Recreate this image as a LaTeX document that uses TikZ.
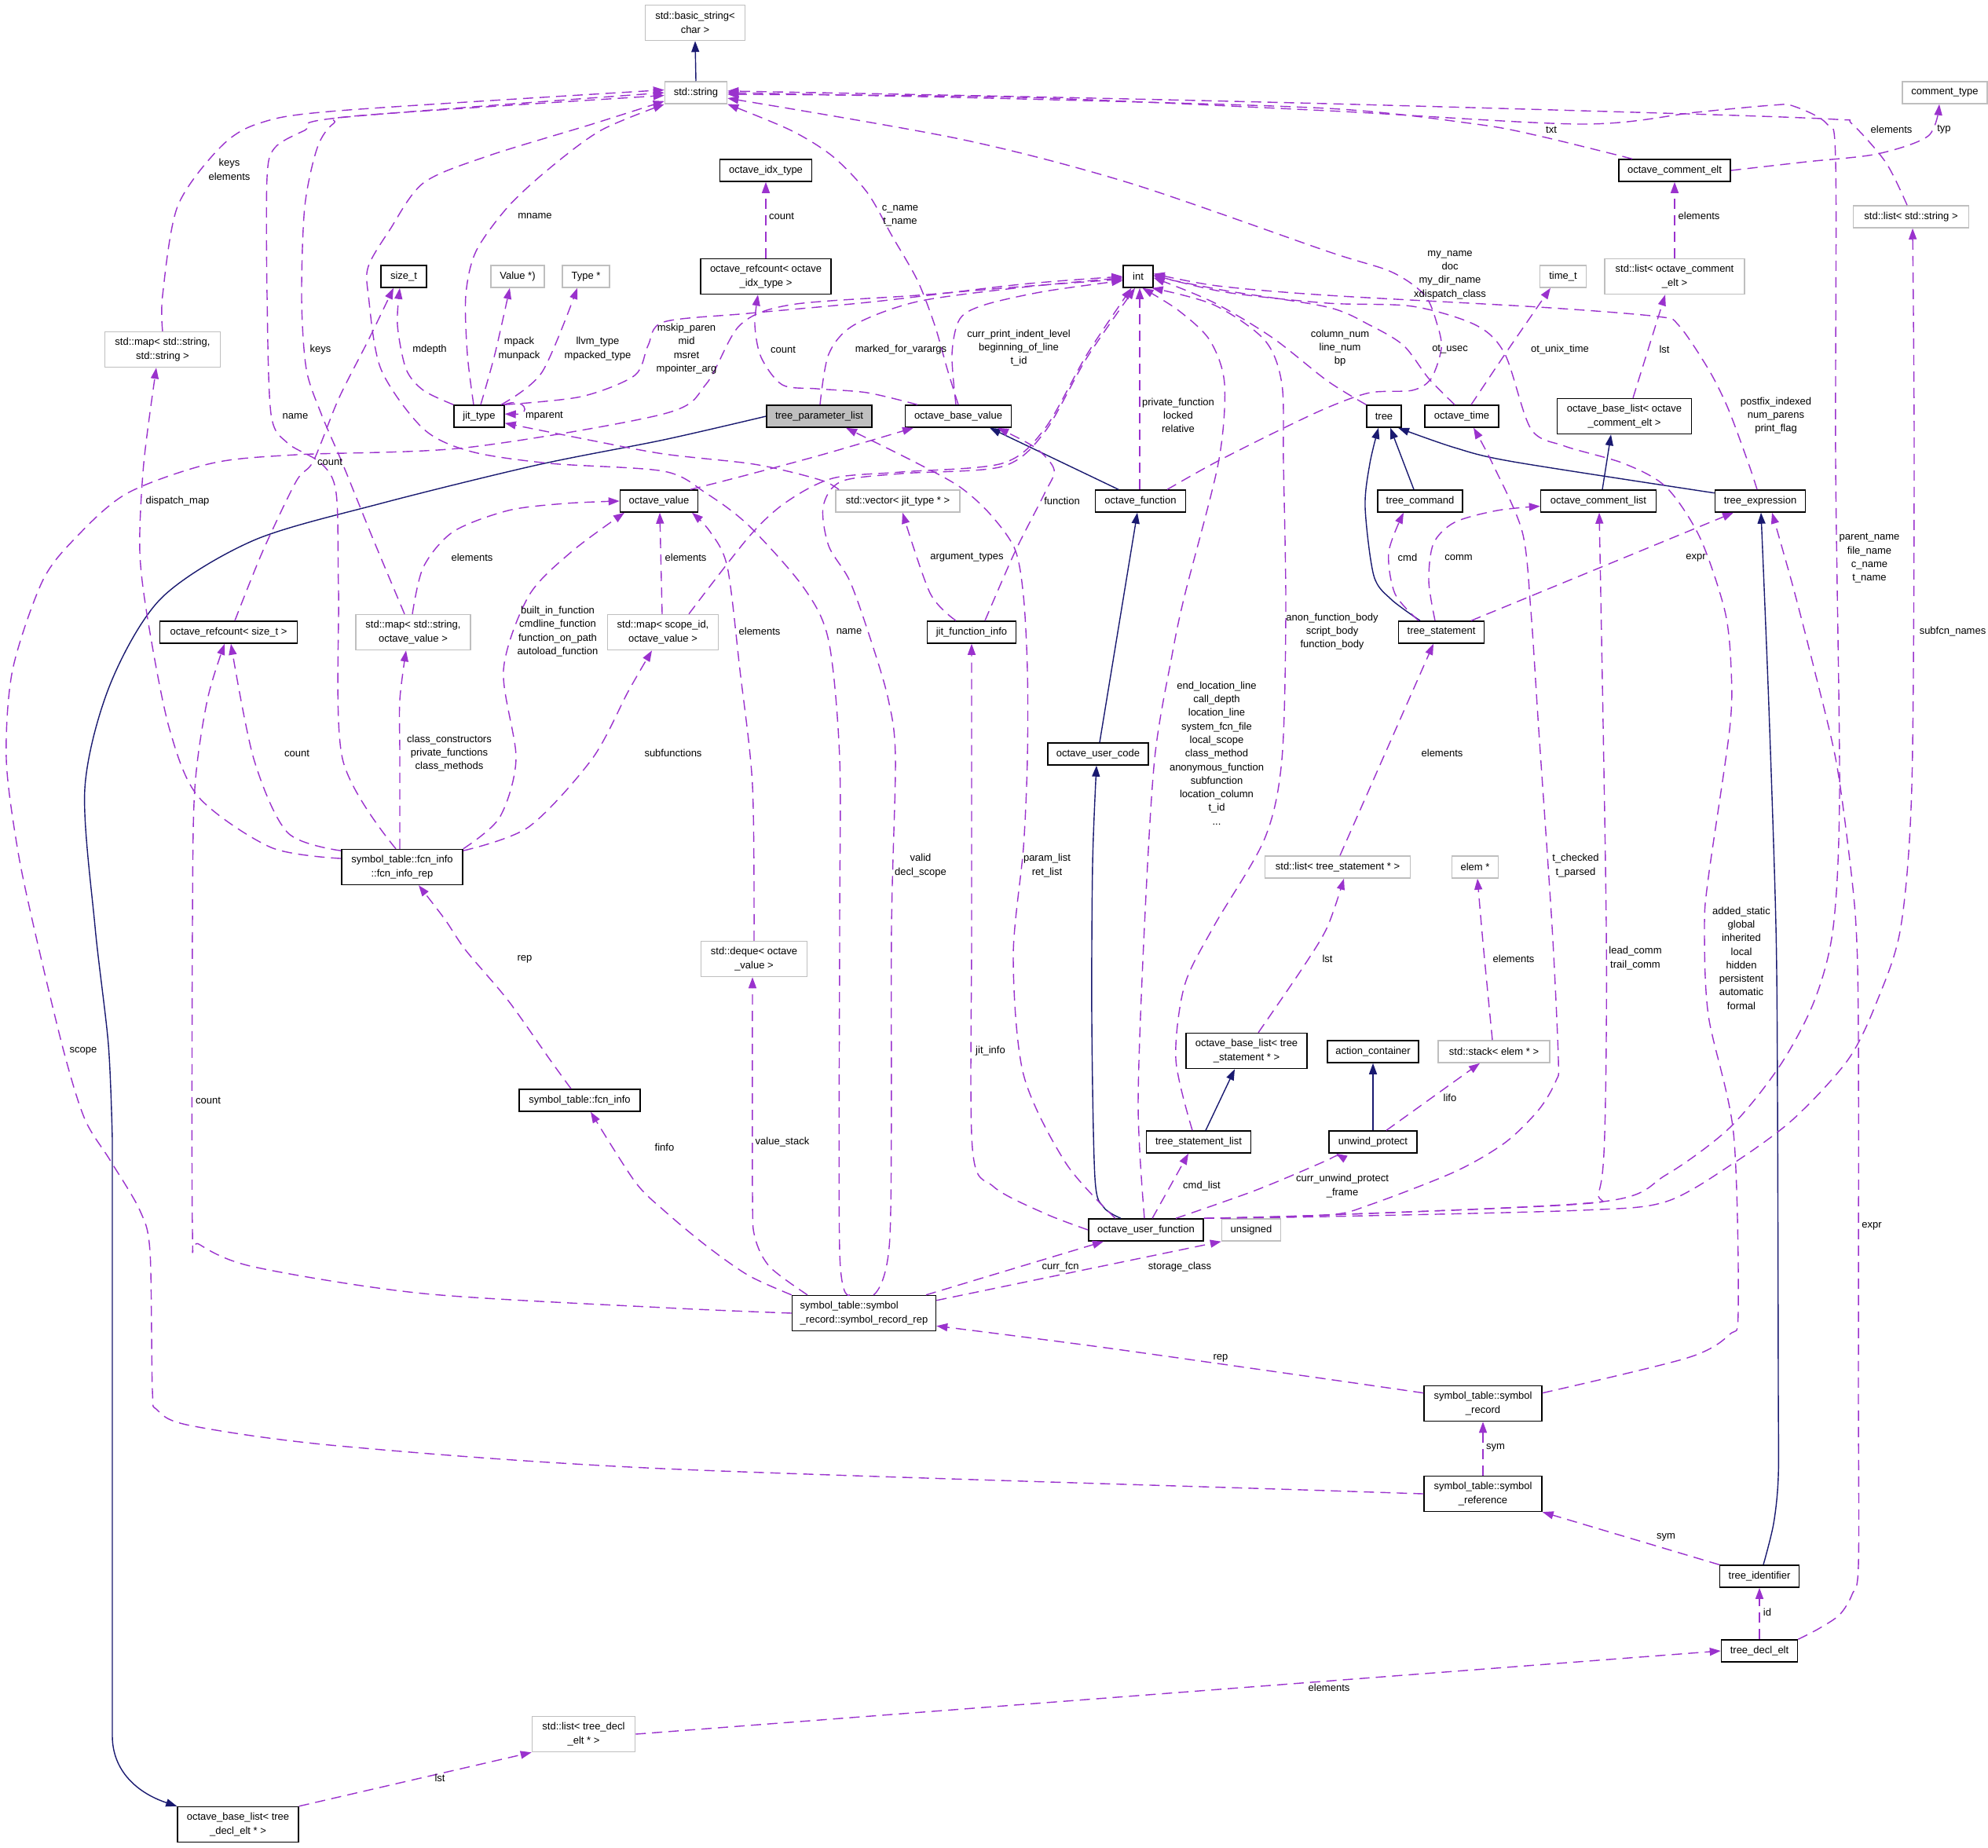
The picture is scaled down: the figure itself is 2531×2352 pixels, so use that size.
\documentclass[tikz,border=0pt]{standalone}
\usepackage{fontspec}
\setmainfont{Liberation Sans}
\usetikzlibrary{arrows.meta}
\definecolor{usec}{HTML}{9A32CD}
\definecolor{inhc}{HTML}{191970}
\definecolor{extc}{HTML}{BFBFBF}
\newcommand\dgfont{\fontsize{13}{17.3}\selectfont}
\tikzset{
 cls/.style={draw=black, line width=1.5pt, fill=white, minimum height=28pt, inner sep=0pt, align=center, font=\dgfont},
 ext/.style={cls, draw=extc},
 two/.style={minimum height=45pt},
 uedge/.style={draw=usec, line width=1.4pt, dash pattern=on 13pt off 8pt, -{Triangle[length=14pt,width=10pt]}},
 iedge/.style={draw=inhc, line width=1.4pt, -{Triangle[length=14pt,width=10pt]}},
 lab/.style={font=\dgfont, align=center, inner sep=0pt},
}
\begin{document}
\begin{tikzpicture}[x=1pt,y=-1pt]
\fill[white] (0,0) rectangle (2531,2352);
\useasboundingbox (0,0) rectangle (2531,2352);
% ---------------- nodes
\node[ext,two,minimum width=127pt] (bstr) at (885,29) {std::basic\_string<\\char >};
\node[ext,minimum width=79pt] (str) at (886,118) {std::string};
\node[cls,minimum width=58pt] (sizet) at (514,352) {size\_t};
\node[ext,minimum width=68pt] (valp) at (659,352) {Value *)};
\node[ext,minimum width=60pt] (typep) at (746,352) {Type *};
\node[ext,two,minimum width=147pt] (mapss) at (207,445) {std::map< std::string,\\std::string >};
\node[cls,minimum width=64pt] (jit) at (610,530) {jit\_type};
\node[cls,minimum width=117pt] (idx) at (975,217) {octave\_idx\_type};
\node[cls,two,minimum width=166pt] (rcidx) at (975,352) {octave\_refcount< octave\\\_idx\_type >};
\node[cls,minimum width=38pt] (intn) at (1449,352) {int};
\node[cls,fill=extc,minimum width=134pt] (tpl) at (1043,530) {tree\_parameter\_list};
\node[cls,minimum width=135pt] (obv) at (1220,530) {octave\_base\_value};
\node[ext,minimum width=108pt] (ctype) at (2476,118) {comment\_type};
\node[cls,minimum width=142pt] (oce) at (2132,217) {octave\_comment\_elt};
\node[ext,minimum width=147pt] (lstr) at (2433,276) {std::list< std::string >};
\node[ext,minimum width=59pt] (timet) at (1990,352) {time\_t};
\node[ext,two,minimum width=178pt] (lcel) at (2132,352) {std::list< octave\_comment\\\_elt >};
\node[cls,minimum width=44pt] (tree) at (1762,530) {tree};
\node[cls,minimum width=94pt] (otime) at (1861,530) {octave\_time};
\node[cls,two,minimum width=171pt] (blce) at (2068,530) {octave\_base\_list< octave\\\_comment\_elt >};
\node[cls,minimum width=99pt] (ov) at (839,638) {octave\_value};
\node[cls,minimum width=175pt] (rcsz) at (291,805) {octave\_refcount< size\_t >};
\node[ext,two,minimum width=146pt] (mapsov) at (526,805) {std::map< std::string,\\octave\_value >};
\node[ext,two,minimum width=141pt] (mapscope) at (844,805) {std::map< scope\_id,\\octave\_value >};
\node[cls,two,minimum width=154pt] (fir) at (512,1104) {symbol\_table::fcn\_info\\::fcn\_info\_rep};
\node[ext,minimum width=158pt] (vecjt) at (1143,638) {std::vector< jit\_type * >};
\node[cls,minimum width=115pt] (ofn) at (1452,638) {octave\_function};
\node[cls,minimum width=113pt] (jfi) at (1237,805) {jit\_function\_info};
\node[cls,minimum width=128pt] (ouc) at (1398,960) {octave\_user\_code};
\node[ext,minimum width=185pt] (ltst) at (1703,1104) {std::list< tree\_statement * >};
\node[cls,minimum width=108pt] (tcmd) at (1808,638) {tree\_command};
\node[cls,minimum width=147pt] (ocl) at (2035,638) {octave\_comment\_list};
\node[cls,minimum width=115pt] (texpr) at (2241,638) {tree\_expression};
\node[cls,minimum width=109pt] (tstmt) at (1835,805) {tree\_statement};
\node[ext,minimum width=59pt] (elem) at (1878,1104) {elem *};
\node[cls,minimum width=154pt] (fi) at (738,1401) {symbol\_table::fcn\_info};
\node[ext,two,minimum width=135pt] (deq) at (960,1221) {std::deque< octave\\\_value >};
\node[cls,two,minimum width=154pt] (blts) at (1587,1338) {octave\_base\_list< tree\\\_statement * >};
\node[cls,minimum width=133pt] (tsl) at (1526,1454) {tree\_statement\_list};
\node[cls,minimum width=146pt] (ouf) at (1459,1566) {octave\_user\_function};
\node[ext,minimum width=75pt] (uns) at (1593,1566) {unsigned};
\node[cls,two,minimum width=183pt,align=left] (srr) at (1100,1672) {symbol\_table::symbol\\\_record::symbol\_record\_rep};
\node[cls,minimum width=116pt] (actc) at (1748,1339) {action\_container};
\node[ext,minimum width=142pt] (stk) at (1902,1339) {std::stack< elem * >};
\node[cls,minimum width=112pt] (uwp) at (1748,1454) {unwind\_protect};
\node[cls,two,minimum width=150pt] (sr) at (1888,1787) {symbol\_table::symbol\\\_record};
\node[cls,two,minimum width=150pt] (sref) at (1888,1902) {symbol\_table::symbol\\\_reference};
\node[cls,minimum width=101pt] (tid) at (2240,2007) {tree\_identifier};
\node[cls,minimum width=97pt] (tde) at (2240,2102) {tree\_decl\_elt};
\node[ext,two,minimum width=131pt] (ltde) at (743,2208) {std::list< tree\_decl\\\_elt * >};
\node[cls,two,minimum width=154pt] (bltde) at (303,2323) {octave\_base\_list< tree\\\_decl\_elt * >};
% ---------------- inheritance
\draw[iedge] (str.north) -- (bstr.south);
\draw[iedge] plot[smooth] coordinates {(tpl.west) (845,560) (684,592) (485,641) (323,688) (205,762) (140,872) (108,1004) (121,1180) (138,1330) (143,1450)} -- (143,2210) .. controls (143,2255) and (175,2283) .. (bltde.north west);
\draw[iedge] ([xshift=-28pt]ofn.north) -- ([xshift=40pt]obv.south);
\draw[iedge] ([xshift=2pt]ouc.north) -- ([xshift=-4pt]ofn.south);
\draw[iedge] plot[smooth] coordinates {([xshift=-32pt]ouf.north) (1405,1537) (1394,1500) (1390,1300) (1391,1100) ([xshift=-2pt]ouc.south)};
\draw[iedge] ([xshift=-8pt]tcmd.north) -- ([xshift=8pt]tree.south);
\draw[iedge] plot[smooth] coordinates {([xshift=-27pt]tstmt.north) (1771,763) (1749,733) (1738,646) (1744,590) ([xshift=-7pt]tree.south)};
\draw[iedge] plot[smooth] coordinates {(texpr.170) (1927,588) (1852,570) ([xshift=18pt]tree.south)};
\draw[iedge] ([xshift=5pt]ocl.north) -- ([xshift=-17pt]blce.south);
\draw[iedge] ([xshift=9pt]tsl.north) -- ([xshift=-15pt]blts.south);
\draw[iedge] (uwp.north) -- (actc.south);
\draw[iedge] plot[smooth] coordinates {([xshift=5pt]tid.north) (2258,1940) (2264,1880) (2264,1770) (2263,1400) (2261,1180) (2252,900) ([xshift=1pt]texpr.south)};
% ---------------- usage: to std::string
\draw[uedge] plot[smooth] coordinates {(mapss.north) (207,376) (226,263) (280,188) (330,157) (431,141) (str.175)};
\draw[uedge] plot[smooth] coordinates {([xshift=-8pt]fir.north) (436,966) (431,753) (428,628) (409,590) (366,564) (345,527) (340,376) (340,226) (350,188) (388,166) (431,150) (str.180)};
\draw[uedge] plot[smooth] coordinates {([xshift=-11pt]mapsov.north) (474,684) (436,590) (409,527) (390,470) (384,380) (388,263) (404,188) (425,157) (460,147) (str.185)};
\draw[uedge] plot[smooth] coordinates {([xshift=-7pt]jit.north) (595,451) (593,376) (606,320) (647,263) (700,214) (765,166) (str.south west)};
\draw[uedge] plot[smooth] coordinates {([xshift=-18pt]srr.north) (1069,1594) (1069,1180) (1069,966) (1055,816) (1023,748) (953,669) (899,628) (845,600) (700,590) (600,575) (539,546) (485,470) (469,376) (469,339) (496,293) (539,233) (620,199) (754,158) (str.195)};
\draw[uedge] plot[smooth] coordinates {(obv.north) (1206,470) (1190,414) (1168,357) (1136,301) (1104,245) (1060,199) (1007,166) (str.-20)};
\draw[uedge] plot[smooth] coordinates {([xshift=34pt]ofn.north) (1545,590) (1620,552) (1690,519) (1744,500) (1798,497) (1822,482) (1835,444) (1830,414) (1814,376) (1771,346) (1690,320) (1438,233) (1222,177) (str.-10)};
\draw[uedge] plot[smooth] coordinates {([xshift=-54pt]oce.north) (1959,173) (1879,158) (1690,138) (1300,126) (str.east)};
\draw[uedge] plot[smooth] coordinates {([xshift=-5pt]lstr.north) (2401,207) (2358,158) (2337,152) (2148,145) (1690,132) (1300,123) (str.3)};
\draw[uedge] plot[smooth] coordinates {(ouf.north east) (1690,1547) (2040,1530) (2121,1496) (2202,1436) (2266,1357) (2310,1274) (2334,1180) (2342,1004) (2337,590) (2337,207) (2326,158) (2283,135) (2256,134) (2159,143) (2013,158) (1690,141) (1300,124) (str.-3)};
% ---------------- usage: to int
\draw[uedge] plot[smooth] coordinates {(jit.north east) (740,505) (808,478) (825,440) (845,410) (953,399) (1114,384) (1300,362) (intn.west)};
\draw[uedge] plot[smooth] coordinates {(sref.west) (1690,1898) (845,1870) (431,1841) (242,1815) (200,1795) (194,1770) (191,1594) (178,1541) (140,1477) (108,1425) (81,1338) (43,1180) (22,1079) (8,966) (16,853) (54,740) (97,684) (162,628) (269,590) (377,579) (593,570) (845,527) (899,489) (942,414) (1007,388) (1168,376) (1300,365) (intn.190)};
\draw[uedge] plot[smooth] coordinates {([xshift=1pt]tpl.north) (1055,451) (1087,414) (1168,384) (1300,366) (intn.185)};
\draw[uedge] plot[smooth] coordinates {([xshift=-3pt]obv.north) (1212,451) (1222,406) (1254,388) (1330,371) (intn.195)};
\draw[uedge] plot[smooth] coordinates {([xshift=-52pt]obv.north) (1104,500) (1040,495) (996,490) (969,455) (961,414) ([xshift=-10pt]rcidx.south)};
\draw[uedge] ([xshift=-1pt]ofn.north) -- ([xshift=2pt]intn.south);
\draw[uedge] plot[smooth] coordinates {([xshift=33pt]mapscope.north) (953,684) (1000,640) (1060,609) (1147,601) (1276,590) (1330,546) (1384,451) (intn.-120)};
\draw[uedge] plot[smooth] coordinates {([xshift=12pt]srr.north) (1133,1574) (1135,1180) (1140,966) (1131,891) (1109,816) (1082,740) (1055,695) (1048,645) (1071,613) (1147,603) (1276,594) (1330,550) (1384,455) (intn.-105)};
\draw[uedge] plot[smooth] coordinates {([xshift=-2pt]ouf.north) (1449,1406) (1457,1180) (1470,966) (1492,835) (1508,759) (1551,590) (1559,489) (1540,433) (1500,395) (intn.-70)};
\draw[uedge] plot[smooth] coordinates {([xshift=-8pt]tsl.north) (1497,1349) (1508,1255) (1545,1180) (1610,1068) (1632,967) (1637,778) (1634,590) (1632,489) (1610,433) (1545,388) (intn.-40)};
\draw[uedge] plot[smooth] coordinates {([xshift=-4pt]texpr.north) (2226,590) (2200,520) (2175,470) (2137,414) (2110,403) (1959,391) (1690,376) (1550,364) (intn.10)};
\draw[uedge] plot[smooth] coordinates {(tree.north west) (1690,485) (1620,430) (1545,385) (intn.-5)};
\draw[uedge] plot[smooth] coordinates {([xshift=-9pt]otime.north) (1819,482) (1787,440) (1744,414) (1690,391) (1560,370) (intn.0)};
\draw[uedge] plot[smooth] coordinates {(sr.10) (2148,1729) (2202,1699) (2213,1669) (2207,1443) (2175,1293) (2170,1180) (2175,1117) (2202,929) (2204,853) (2196,778) (2164,684) (2121,620) (2067,590) (1992,568) (1949,546) (1916,451) (1879,414) (1798,390) (1690,386) (1560,372) (intn.5)};
% ---------------- usage: jit_type area
\draw[uedge] plot[smooth] coordinates {([xshift=8pt]rcsz.north) (334,703) (377,613) (399,587) (431,508) (469,433) ([xshift=-13pt]sizet.south)};
\draw[uedge] plot[smooth] coordinates {(jit.north west) (539,497) (517,470) (506,414) ([xshift=-5pt]sizet.south)};
\draw[uedge] plot[smooth] coordinates {([xshift=2pt]jit.north) (630,451) ([xshift=-10pt]valp.south)};
\draw[uedge] plot[smooth] coordinates {([xshift=28pt]jit.north) (690,474) ([xshift=-11pt]typep.south)};
\draw[uedge] (jit.25) .. controls (668,505) and (678,528) .. (jit.5);
\draw[uedge] plot[smooth] coordinates {([xshift=-75pt]vecjt.north) (1050,613) (1007,601) (953,590) (845,578) (754,561) (jit.-15)};
% ---------------- usage: octave_value area
\draw[uedge] plot[smooth] coordinates {([xshift=40pt]ov.north) (950,605) (1050,578) ([xshift=-57pt]obv.south)};
\draw[uedge] plot[smooth] coordinates {([xshift=-1pt]mapsov.north) (539,722) (577,677) (647,650) (720,641) (ov.west)};
\draw[uedge] ([xshift=-1pt]mapscope.north) -- ([xshift=1pt]ov.south);
\draw[uedge] plot[smooth] coordinates {(deq.north) (958,1000) (942,853) (926,722) (904,677) ([xshift=42pt]ov.south)};
\draw[uedge] plot[smooth] coordinates {(fir.north east) (636,1041) (657,966) (641,853) (673,759) (727,703) ([xshift=-44pt]ov.south)};
\draw[uedge] plot[smooth] coordinates {([xshift=-3pt]fir.north) (509,960) (509,891) ([xshift=-9pt]mapsov.south)};
\draw[uedge] plot[smooth] coordinates {(fir.15) (673,1053) (754,966) (800,880) ([xshift=-14pt]mapscope.south)};
\draw[uedge] plot[smooth] coordinates {(fir.165) (366,1060) (323,966) ([xshift=3pt]rcsz.south)};
\draw[uedge] plot[smooth] coordinates {(fir.172) (345,1079) (253,1015) (216,929) (190,800) (178,703) (183,590) ([xshift=-8pt]mapss.south)};
% ---------------- usage: functions
\draw[uedge] plot[smooth] coordinates {(ouf.west) (1330,1545) (1265,1511) (1238,1462) (1237,1180) (jfi.south)};
\draw[uedge] plot[smooth] coordinates {([xshift=17pt]jfi.north) (1292,703) (1330,628) (1342,598) (1318,570) ([xshift=50pt]obv.south)};
\draw[uedge] plot[smooth] coordinates {([xshift=-20pt]jfi.north) (1184,755) ([xshift=6pt]vecjt.south)};
\draw[uedge] plot[smooth] coordinates {([xshift=-39pt]ouf.north) (1357,1481) (1303,1368) (1290,1218) (1303,1079) (1308,966) (1308,853) (1303,759) (1292,699) (1260,654) (1222,620) (1168,590) ([xshift=34pt]tpl.south)};
% ---------------- usage: right part
\draw[uedge] plot[smooth] coordinates {([xshift=12pt]otime.north) (1916,451) ([xshift=-16pt]timet.south)};
\draw[uedge] ([xshift=11pt]blce.north) -- ([xshift=-12pt]lcel.south);
\draw[uedge] (lcel.north) -- (oce.south);
\draw[uedge] plot[smooth] coordinates {(oce.east) (2300,206) (2390,196) (2455,173) ([xshift=-7pt]ctype.south)};
\draw[uedge] (rcidx.north) -- (idx.south);
\draw[uedge] plot[smooth] coordinates {([xshift=-29pt]tstmt.north) (1776,756) (1768,703) ([xshift=-21pt]tcmd.south)};
\draw[uedge] plot[smooth] coordinates {([xshift=-8pt]tstmt.north) (1819,740) (1825,692) (1852,665) (1906,650) (ocl.185)};
\draw[uedge] ([xshift=38pt]tstmt.north) -- ([xshift=-34pt]texpr.south);
\draw[uedge] ([xshift=3pt]ltst.north) -- ([xshift=-10pt]tstmt.south);
\draw[uedge] plot[smooth] coordinates {([xshift=15pt]blts.north) (1660,1230) (1690,1180) ([xshift=8pt]ltst.south)};
\draw[uedge] plot[smooth] coordinates {([xshift=-2pt]stk.north) (1888,1200) ([xshift=3pt]elem.south)};
\draw[uedge] ([xshift=17pt]uwp.north) -- ([xshift=-18pt]stk.south);
\draw[uedge] plot[smooth] coordinates {([xshift=38pt]ouf.north) (1600,1515) (1690,1477) ([xshift=-47pt]uwp.south)};
\draw[uedge] ([xshift=8pt]ouf.north) -- ([xshift=-13pt]tsl.south);
\draw[uedge] plot[smooth] coordinates {(ouf.north east) (1690,1549) (2013,1541) (2121,1530) (2207,1481) (2283,1425) (2353,1349) (2390,1274) (2420,1180) (2434,1000) (2437,590) ([xshift=2pt]lstr.south)};
\draw[uedge] plot[smooth] coordinates {(ouf.north east) (1690,1547) (2013,1533) (2035,1519) (2043,1443) (2045,1180) ([xshift=1pt]ocl.south)};
\draw[uedge] plot[smooth] coordinates {(ouf.north east) (1690,1547) (1744,1534) (1852,1492) (1916,1455) (1959,1413) (1981,1376) (1984,1349) (1976,1180) (1959,929) (1949,778) (1938,677) (1900,590) ([xshift=15pt]otime.south)};
% ---------------- usage: symbol table
\draw[uedge] plot[smooth] coordinates {(sr.170) (1690,1756) (1400,1715) (srr.-10)};
\draw[uedge] (sref.north) -- (sr.south);
\draw[uedge] (tid.north west) -- (sref.south east);
\draw[uedge] (tde.north) -- (tid.south);
\draw[uedge] plot[smooth] coordinates {(tde.north east) (2315,2074) (2342,2056) (2358,2030) (2366,1993) (2366,1770) (2366,1323) (2363,1180) (2353,1079) (2337,966) (2310,853) (2283,748) ([xshift=15pt]texpr.south)};
\draw[uedge] (ltde.east) -- (tde.west);
\draw[uedge] (bltde.north east) -- (ltde.south west);
\draw[uedge] plot[smooth] coordinates {(srr.west) (845,1665) (539,1647) (323,1613) (253,1584) (245,1567) (245,1180) (248,1004) (264,891) ([xshift=-5pt]rcsz.south)};
\draw[uedge] plot[smooth] coordinates {(srr.north west) (953,1624) (899,1586) (845,1541) (808,1504) ([xshift=14pt]fi.south)};
\draw[uedge] plot[smooth] coordinates {([xshift=-11pt]fi.north) (700,1349) (647,1274) (593,1210) (566,1170) ([xshift=21pt]fir.south)};
\draw[uedge] plot[smooth] coordinates {([xshift=-72pt]srr.north) (980,1613) (961,1575) (958,1519) ([xshift=-2pt]deq.south)};
\draw[uedge] ([xshift=79pt]srr.north) -- ([xshift=-54pt]ouf.south);
\draw[uedge] (srr.10) -- (uns.south west);
% ---------------- labels
\node[lab] (L01) at (292,216) {keys\\elements};
\node[lab] (L02) at (681,275) {mname};
\node[lab] (L03) at (408,445) {keys};
\node[lab] (L04) at (547,445) {mdepth};
\node[lab] (L05) at (661,444) {mpack\\munpack};
\node[lab] (L06) at (761,444) {llvm\_type\\mpacked\_type};
\node[lab] (L07) at (693,530) {mparent};
\node[lab] (L08) at (376,530) {name};
\node[lab] (L09) at (420,588) {count};
\node[lab] (L10) at (995,275) {count};
\node[lab] (L11) at (1146,275) {c\_name\\t\_name};
\node[lab] (L12) at (874,444) {mskip\_paren\\mid\\msret\\mpointer\_arg};
\node[lab] (L13) at (997,445) {count};
\node[lab] (L14) at (1147,445) {marked\_for\_varargs};
\node[lab] (L15) at (1297,443) {curr\_print\_indent\_level\\beginning\_of\_line\\t\_id};
\node[lab] (L16) at (1500,529) {private\_function\\locked\\relative};
\node[lab] (L17) at (1975,165) {txt};
\node[lab] (L18) at (2408,165) {elements};
\node[lab] (L19) at (2475,165) {typ};
\node[lab] (L20) at (2163,275) {elements};
\node[lab] (L21) at (1846,350) {my\_name\\doc\\my\_dir\_name\\xdispatch\_class};
\node[lab] (L22) at (1706,443) {column\_num\\line\_num\\bp};
\node[lab] (L23) at (1846,445) {ot\_usec};
\node[lab] (L24) at (1986,445) {ot\_unix\_time};
\node[lab] (L25) at (2119,445) {lst};
\node[lab] (L26) at (2261,529) {postfix\_indexed\\num\_parens\\print\_flag};
\node[lab] (L27) at (226,638) {dispatch\_map};
\node[lab] (L28) at (601,710) {elements};
\node[lab] (L29) at (710,804) {built\_in\_function\\cmdline\_function\\function\_on\_path\\autoload\_function};
\node[lab] (L30) at (378,959) {count};
\node[lab] (L31) at (572,959) {class\_constructors\\private\_functions\\class\_methods};
\node[lab] (L32) at (857,959) {subfunctions};
\node[lab] (L33) at (873,710) {elements};
\node[lab] (L34) at (967,804) {elements};
\node[lab] (L35) at (1081,804) {name};
\node[lab] (L36) at (1352,638) {function};
\node[lab] (L37) at (1231,710) {argument\_types};
\node[lab] (L38) at (1696,804) {anon\_function\_body\\script\_body\\function\_body};
\node[lab] (L39) at (1549,959) {end\_location\_line\\call\_depth\\location\_line\\system\_fcn\_file\\local\_scope\\class\_method\\anonymous\_function\\subfunction\\location\_column\\t\_id\\...};
\node[lab] (L40) at (1172,1102) {valid\\decl\_scope};
\node[lab] (L41) at (1333,1102) {param\_list\\ret\_list};
\node[lab] (L42) at (1792,710) {cmd};
\node[lab] (L43) at (1857,710) {comm};
\node[lab] (L44) at (2159,710) {expr};
\node[lab] (L45) at (2380,711) {parent\_name\\file\_name\\c\_name\\t\_name};
\node[lab] (L46) at (2486,804) {subfcn\_names};
\node[lab] (L47) at (1836,959) {elements};
\node[lab] (L48) at (2006,1102) {t\_checked\\t\_parsed};
\node[lab] (L49) at (2217,1220) {added\_static\\global\\inherited\\local\\hidden\\persistent\\automatic\\formal};
\node[lab] (L50) at (668,1221) {rep};
\node[lab] (L51) at (106,1338) {scope};
\node[lab] (L52) at (265,1401) {count};
\node[lab] (L53) at (846,1461) {finfo};
\node[lab] (L54) at (996,1454) {value\_stack};
\node[lab] (L55) at (1261,1338) {jit\_info};
\node[lab] (L56) at (1530,1510) {cmd\_list};
\node[lab] (L57) at (1709,1510) {curr\_unwind\_protect\\\_frame};
\node[lab] (L58) at (1350,1613) {curr\_fcn};
\node[lab] (L59) at (1502,1613) {storage\_class};
\node[lab] (L60) at (1554,1729) {rep};
\node[lab] (L61) at (1690,1221) {lst};
\node[lab] (L62) at (1927,1221) {elements};
\node[lab] (L63) at (2082,1220) {lead\_comm\\trail\_comm};
\node[lab] (L64) at (1846,1398) {lifo};
\node[lab] (L65) at (2383,1561) {expr};
\node[lab] (L66) at (560,2264) {lst};
\node[lab] (L67) at (1692,2149) {elements};
\node[lab] (L68) at (1904,1843) {sym};
\node[lab] (L69) at (2121,1957) {sym};
\node[lab] (L70) at (2250,2053) {id};
\end{tikzpicture}
\end{document}
